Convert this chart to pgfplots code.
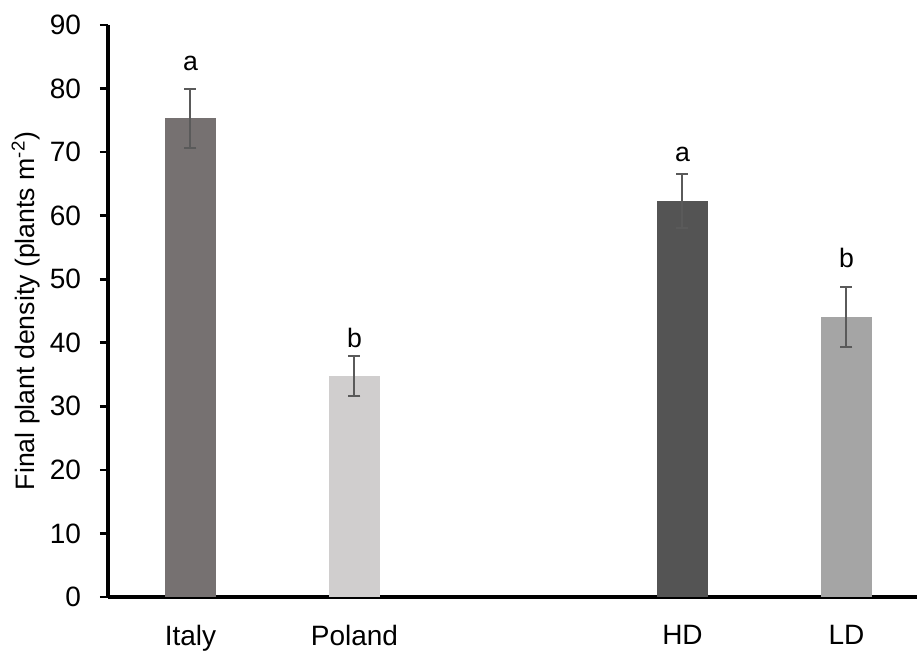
\documentclass[border=0pt]{standalone}
\usepackage{fontspec}
\setmainfont{Liberation Sans}
\usepackage{pgfplots}
\pgfplotsset{compat=1.18}
\definecolor{cItaly}{HTML}{767171}
\definecolor{cPoland}{HTML}{D0CECE}
\definecolor{cHD}{HTML}{545454}
\definecolor{cLD}{HTML}{A5A5A5}
\definecolor{errgray}{HTML}{5A5A5A}
\begin{document}
\begin{tikzpicture}
\useasboundingbox (-81pt,-42pt) rectangle (606.75pt,447.75pt);
\begin{axis}[
  scale only axis,
  width=606.75pt, height=429pt,
  at={(0,0)}, anchor=south west,
  xmin=-0.503, xmax=4.43,
  ymin=0, ymax=90,
  ytick={0,10,...,90},
  xtick={0,1,3,4},
  xticklabels={Italy,Poland,HD,LD},
  axis x line*=bottom,
  axis y line*=left,
  axis line style={line width=2.3pt, black},
  tick align=outside,
  x tick style={draw=none},
  y tick style={line width=2pt, black},
  major tick length=6pt,
  /pgf/number format/assume math mode=true,
  yticklabel style={font=\fontsize{21}{25}\selectfont, anchor=east, inner sep=0pt, xshift=-14pt},
  xticklabel style={font=\fontsize{21}{25}\selectfont, anchor=north, inner sep=0pt, yshift=-15pt},
  ylabel={Final plant density (plants m\textsuperscript{-2})},
  ylabel style={font=\fontsize{20}{24}\selectfont, at={(axis description cs:-0.1014,0.5)}, anchor=center},
  ybar, bar width=38.25pt, bar shift=0pt,
  error bars/y dir=both, error bars/y explicit,
  error bars/error bar style={line width=1.5pt, errgray},
  error bars/error mark options={rotate=90, mark size=4.5pt, line width=1.5pt, errgray},
  clip=false,
]
\addplot[fill=cItaly, draw=none] coordinates {(0,75.3) +- (0,4.6)};
\addplot[fill=cPoland, draw=none] coordinates {(1,34.8) +- (0,3.1)};
\addplot[fill=cHD, draw=none] coordinates {(3,62.3) +- (0,4.3)};
\addplot[fill=cLD, draw=none] coordinates {(4,44.1) +- (0,4.7)};
\node[anchor=base, font=\fontsize{20}{24}\selectfont, inner sep=0pt] at (axis cs:0,82.8) {a};
\node[anchor=base, font=\fontsize{20}{24}\selectfont, inner sep=0pt] at (axis cs:1,39.3) {b};
\node[anchor=base, font=\fontsize{20}{24}\selectfont, inner sep=0pt] at (axis cs:3,68.5) {a};
\node[anchor=base, font=\fontsize{20}{24}\selectfont, inner sep=0pt] at (axis cs:4,51.9) {b};
\end{axis}
\end{tikzpicture}
\end{document}
